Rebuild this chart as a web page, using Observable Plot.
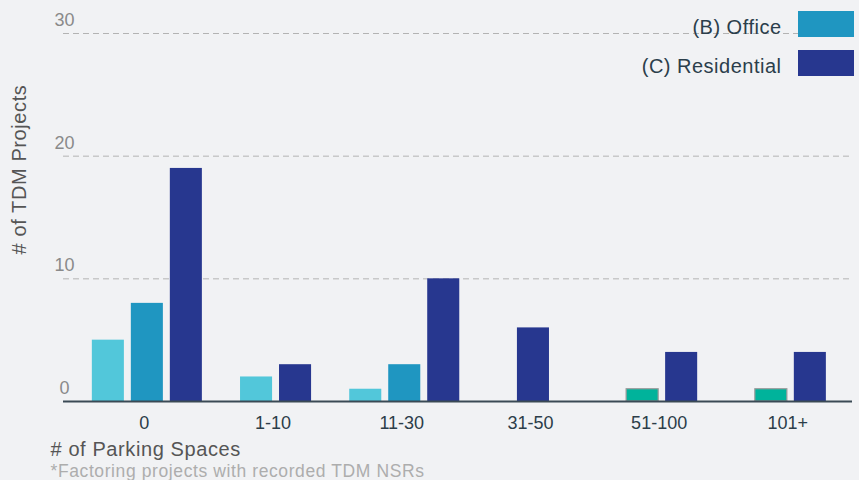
<!DOCTYPE html>
<html><head><meta charset="utf-8">
<script src="https://cdn.jsdelivr.net/npm/d3@7"></script>
<script src="https://cdn.jsdelivr.net/npm/@observablehq/plot@0.6"></script>
<style>
html,body{margin:0;padding:0;background:#f1f2f4;}
#wrap{position:relative;width:859px;height:480px;background:#f1f2f4;font-family:"Liberation Sans",Arial,Helvetica,sans-serif;overflow:hidden;}
#wrap svg{position:absolute;left:0;top:0;}
#wrap svg text.spaced{letter-spacing:0.6px;}
#legend{position:absolute;right:5px;top:11px;z-index:2;}
.item{display:flex;align-items:center;justify-content:flex-end;height:26px;margin-bottom:13px;}
.item span{font-size:20px;color:#2b3e4b;margin-right:16.5px;letter-spacing:0.5px;position:relative;top:3px;}
.sw{width:56px;height:26px;}
</style></head><body>
<div id="wrap"><div id="legend"></div></div>
<script>
// ---- data ----
const categories = ["0", "1-10", "11-30", "31-50", "51-100", "101+"];
const seriesKeys = ["A", "B", "D", "C"];
const seriesA = [5, 2, 1, null, null, null];
const officeB = [8, null, 3, null, null, null];
const seriesD = [null, null, null, null, 1, 1];
const residentialC = [19, 3, 10, 6, 4, 4];
const seriesColors = ["#52c7da", "#1f96c1", "#00b39b", "#27378f"];
const yTicks = [0, 10, 20, 30];
const legendLabels = ["(B) Office", "(C) Residential"];
const legendKeys = ["B", "C"];
const yTitle = "# of TDM Projects";
const xTitle = "# of Parking Spaces";
const footnote = "*Factoring projects with recorded TDM NSRs";

// ---- build table ----
const valuesBySeries = {A: seriesA, B: officeB, D: seriesD, C: residentialC};
const barW = 0.249, barStep = 0.303;
const rows = [];
categories.forEach((cat, i) => {
  const present = seriesKeys.filter(k => valuesBySeries[k][i] != null);
  present.forEach((k, j) => {
    const off = (j - (present.length - 1) / 2) * barStep;
    rows.push({cat, i, series: k, value: valuesBySeries[k][i], x1: i + off - barW / 2, x2: i + off + barW / 2});
  });
});

const chart = Plot.plot({
  width: 859, height: 480,
  marginLeft: 63, marginRight: 7, marginTop: 33, marginBottom: 79,
  style: {background: "transparent", fontFamily: '"Liberation Sans", Arial, Helvetica, sans-serif', fontSize: "18px", overflow: "visible"},
  x: {type: "linear", domain: [-0.5, categories.length - 0.5], range: [82.5, 854.7]},
  y: {domain: [0, 30]},
  color: {domain: seriesKeys, range: seriesColors},
  marks: [
    Plot.gridY(yTicks.filter(t => t > 0), {stroke: "#b3b3b3", strokeOpacity: 1, strokeDasharray: "6,4"}),
    Plot.axisY(yTicks, {tickSize: 0, tickPadding: 0, textAnchor: "middle", lineAnchor: "bottom", dx: 1, dy: -7.5, fontSize: 18, fill: "#8a8a8a", label: null}),
    Plot.rectY(rows, {filter: d => d.series !== "D", x1: "x1", x2: "x2", y1: d => 0, y2: "value", fill: "series"}),
    Plot.rectY(rows, {filter: d => d.series === "D", x1: "x1", x2: "x2", y1: d => 0, y2: "value", fill: "series", stroke: "#9a9a9a", strokeWidth: 1.2}),
    Plot.ruleY([0], {stroke: "#3b4a55", strokeWidth: 2}),
    Plot.axisX(d3.range(categories.length), {tickSize: 0, tickPadding: 15, tickFormat: i => categories[i], fontSize: 18, fill: "#2c3d49", dx: -3, label: null}),
    Plot.text([yTitle], {text: d => d, frameAnchor: "left", rotate: -90, textAnchor: "middle", lineAnchor: "bottom", dx: -38, dy: -48, fontSize: 20, fill: "#555", className: "spaced"}),
    Plot.text([xTitle], {text: d => d, frameAnchor: "bottom-left", textAnchor: "start", lineAnchor: "bottom", dx: -13, dy: 54, fontSize: 20, fill: "#555", className: "spaced"}),
    Plot.text([footnote], {text: d => d, frameAnchor: "bottom-left", textAnchor: "start", lineAnchor: "bottom", dx: -13, dy: 75, fontSize: 17.5, fill: "#adadad", className: "spaced"})
  ]
});
document.getElementById("wrap").appendChild(chart);
// letter spacing for the title-like texts (className may not reach <text>)
d3.select(chart).selectAll("g.spaced text, text.spaced").style("letter-spacing", "0.6px");

const legend = document.getElementById("legend");
legendLabels.forEach((lab, k) => {
  const item = document.createElement("div");
  item.className = "item";
  const span = document.createElement("span");
  span.textContent = lab;
  const sw = document.createElement("div");
  sw.className = "sw";
  sw.style.background = seriesColors[seriesKeys.indexOf(legendKeys[k])];
  item.appendChild(span);
  item.appendChild(sw);
  legend.appendChild(item);
});
</script>
</body></html>
